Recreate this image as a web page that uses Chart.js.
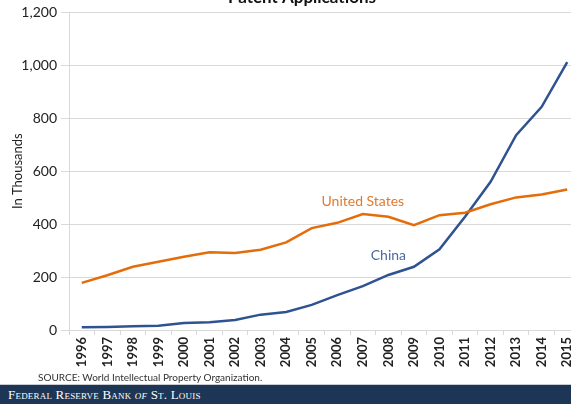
<!DOCTYPE html>
<html>
<head>
<meta charset="utf-8">
<script src="https://cdn.jsdelivr.net/npm/chart.js@4/dist/chart.umd.min.js"></script>
<style>
  html, body { margin: 0; padding: 0; background: #fff; }
  #page { position: relative; width: 571px; height: 404px; overflow: hidden; background: #fff; }
  #wrap { position: absolute; left: 0; top: 0; width: 600px; height: 383px; }
  #source { position: absolute; left: 38px; top: 371px; font: 10px Lato, sans-serif; color: #333; }
  #footer { position: absolute; left: 0; top: 384px; width: 571px; height: 20px; background: #1d3655;
            border-top: 1px solid #c8ccd2; }
  #footer span { position: absolute; left: 8px; top: 2px; color: #fff; font: 13px "Liberation Serif", "DejaVu Serif", serif;
                 font-variant: small-caps; letter-spacing: 0.2px; }
</style>
</head>
<body>
<div id="page">
  <div id="wrap"><canvas id="patentChart" width="600" height="383"></canvas></div>
  <div id="source">SOURCE: World Intellectual Property Organization.</div>
  <div id="footer"><span>Federal Reserve Bank <i>of</i> St. Louis</span></div>
</div>
<script>
// Patent applications, in thousands
const years = ["1996", "1997", "1998", "1999", "2000", "2001", "2002", "2003", "2004", "2005",
               "2006", "2007", "2008", "2009", "2010", "2011", "2012", "2013", "2014", "2015"];
const usValues = [178, 207, 239, 258, 277, 294, 291, 303, 331, 385,
                  405, 438, 428, 396, 434, 443, 475, 501, 512, 531];
const chinaValues = [10, 11, 14, 16, 26, 29, 38, 58, 68, 95,
                     132, 166, 208, 239, 305, 428, 560, 736, 843, 1012];
const yTicks = [0, 200, 400, 600, 800, 1000, 1200];

const orange = "#e46c0a";
const blue = "#2f5391";

// Title and the in-chart series names
const textPlugin = {
    id: "texts",
    afterDraw(chart) {
        const ctx = chart.ctx;
        const x = chart.scales.x, y = chart.scales.y;
        ctx.save();
        ctx.textAlign = "center";
        ctx.font = "bold 17px Lato, sans-serif";
        ctx.fillStyle = "#111";
        ctx.textBaseline = "alphabetic";
        ctx.fillText("Patent Applications", 302, 3);

        ctx.textBaseline = "middle";
        ctx.font = "14px Lato, sans-serif";
        ctx.fillStyle = "#e07a2e";
        ctx.fillText("United States", x.getPixelForValue(11), y.getPixelForValue(487));
        ctx.fillStyle = "#4a6a9e";
        ctx.fillText("China", x.getPixelForValue(12), y.getPixelForValue(283));
        ctx.restore();
    }
};

const ctx = document.getElementById("patentChart").getContext("2d");
new Chart(ctx, {
    type: "line",
    data: {
        labels: years,
        datasets: [{
            label: "United States",
            data: usValues,
            borderColor: orange,
            borderWidth: 2.5,
            pointRadius: 0,
            tension: 0
        }, {
            label: "China",
            data: chinaValues,
            borderColor: blue,
            borderWidth: 2.5,
            pointRadius: 0,
            tension: 0
        }]
    },
    options: {
        responsive: false,
        animation: false,
        layout: { padding: { top: 6, right: 20, left: 10, bottom: 0 } },
        plugins: { legend: { display: false }, tooltip: { enabled: false } },
        scales: {
            x: {
                offset: true,
                grid: { offset: true, drawOnChartArea: false, drawTicks: true, tickLength: 5, color: "#d9d9d9" },
                border: { color: "#d9d9d9" },
                ticks: {
                    minRotation: 90, maxRotation: 90, padding: 2,
                    color: "#222", font: { family: "Lato", size: 13, weight: "bold" }
                },
                afterFit(scale) { scale.height = 53; }
            },
            y: {
                min: 0, max: 1200,
                afterBuildTicks(scale) { scale.ticks = yTicks.map(v => ({ value: v })); },
                grid: { color: "#d9d9d9", tickLength: 8 },
                border: { color: "#d9d9d9" },
                ticks: {
                    padding: 4, color: "#222",
                    font: { family: "Lato", size: 14 },
                    callback: v => v.toLocaleString("en-US")
                },
                title: {
                    display: true, text: "In Thousands", color: "#222",
                    font: { family: "Lato", size: 13 }, padding: 0
                },
                afterFit(scale) { scale.width = 59; }
            }
        }
    },
    plugins: [textPlugin]
});
</script>
</body>
</html>
